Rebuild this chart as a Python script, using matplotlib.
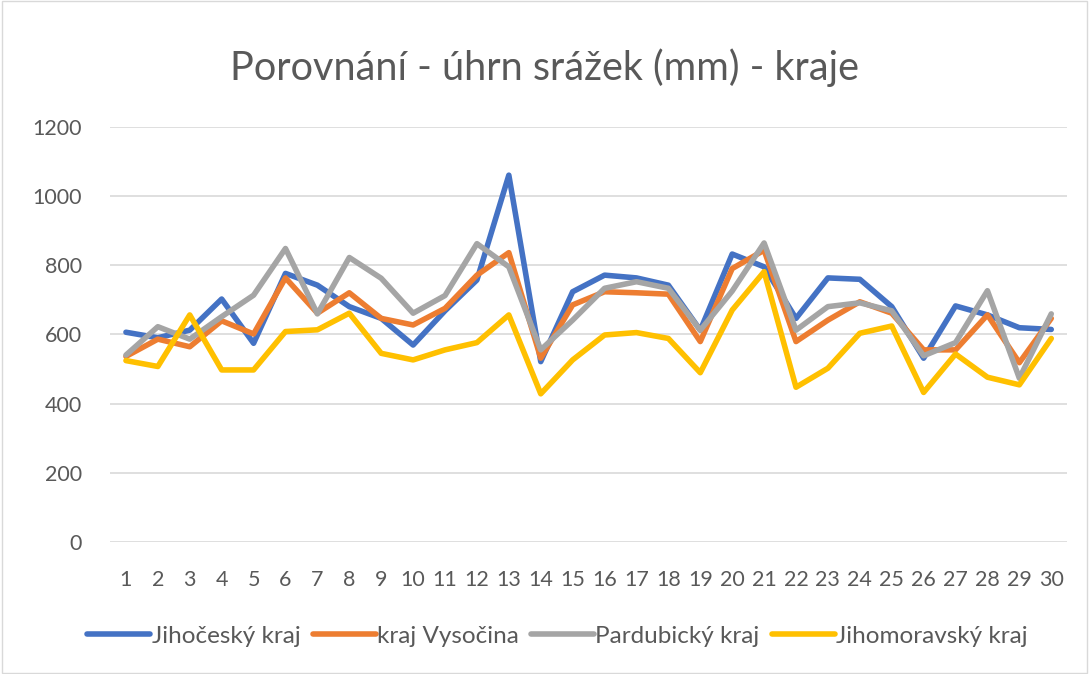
import matplotlib
matplotlib.use("Agg")
import matplotlib.pyplot as plt
from matplotlib.patches import Rectangle

plt.rcParams["font.family"] = ["Lato", "DejaVu Sans"]

# ── data ─────────────────────────────────────────────────────────────────────
days = list(range(1, 31))

jihocesky = [606, 590, 612, 702, 574, 776, 742, 680, 646, 569,
             668, 757, 1060, 521, 723, 771, 763, 742, 612, 832,
             795, 646, 763, 759, 680, 531, 682, 656, 619, 614]
vysocina = [536, 586, 564, 639, 601, 763, 661, 720, 646, 627,
            675, 771, 836, 531, 685, 723, 720, 716, 579, 790,
            843, 579, 641, 694, 661, 555, 555, 656, 518, 646]
pardubicky = [540, 622, 586, 651, 713, 848, 659, 822, 762, 661,
              712, 862, 795, 555, 641, 733, 752, 733, 612, 725,
              864, 612, 680, 691, 668, 538, 576, 726, 473, 659]
jihomoravsky = [524, 507, 656, 497, 497, 608, 613, 661, 545, 526,
                555, 576, 656, 428, 526, 598, 605, 588, 489, 670,
                781, 447, 502, 603, 624, 432, 543, 476, 454, 588]

series = [
    ("Jihočeský kraj", jihocesky, "#4472C4"),
    ("kraj Vysočina", vysocina, "#ED7D31"),
    ("Pardubický kraj", pardubicky, "#A5A5A5"),
    ("Jihomoravský kraj", jihomoravsky, "#FFC000"),
]

TEXT = "#595959"

# ── figure ───────────────────────────────────────────────────────────────────
fig = plt.figure(figsize=(10.89, 6.74), dpi=100)
fig.patches.append(Rectangle((0.002, 0.002), 0.996, 0.996, transform=fig.transFigure,
                             fill=False, edgecolor="#D9D9D9", linewidth=1.0))

ax = fig.add_axes([0.101, 0.196, 0.879, 0.616])

for label, vals, color in series:
    ax.plot(days, vals, color=color, linewidth=4.0, label=label,
            solid_capstyle="round", solid_joinstyle="round")

ax.set_xlim(0.5, 30.5)
ax.set_ylim(0, 1200)
ax.set_yticks(range(0, 1201, 200))
ax.set_xticks(days)
ax.grid(True, axis="y", color="#D9D9D9", linewidth=1.2)
ax.set_axisbelow(True)
for s in ax.spines.values():
    s.set_visible(False)
ax.tick_params(length=0, colors=TEXT, labelsize=15.5)
ax.tick_params(axis="y", pad=20)
ax.tick_params(axis="x", pad=20)

fig.text(0.5, 0.899, "Porovnání - úhrn srážek (mm) - kraje", ha="center", va="center",
         fontsize=28.5, color=TEXT)

fig.legend(loc="center", bbox_to_anchor=(0.512, 0.056), ncol=4, frameon=False,
           fontsize=17.5, labelcolor=TEXT, handlelength=2.6, handletextpad=0.05,
           columnspacing=0.5)

fig.savefig("out.png", dpi=100, facecolor="white")
